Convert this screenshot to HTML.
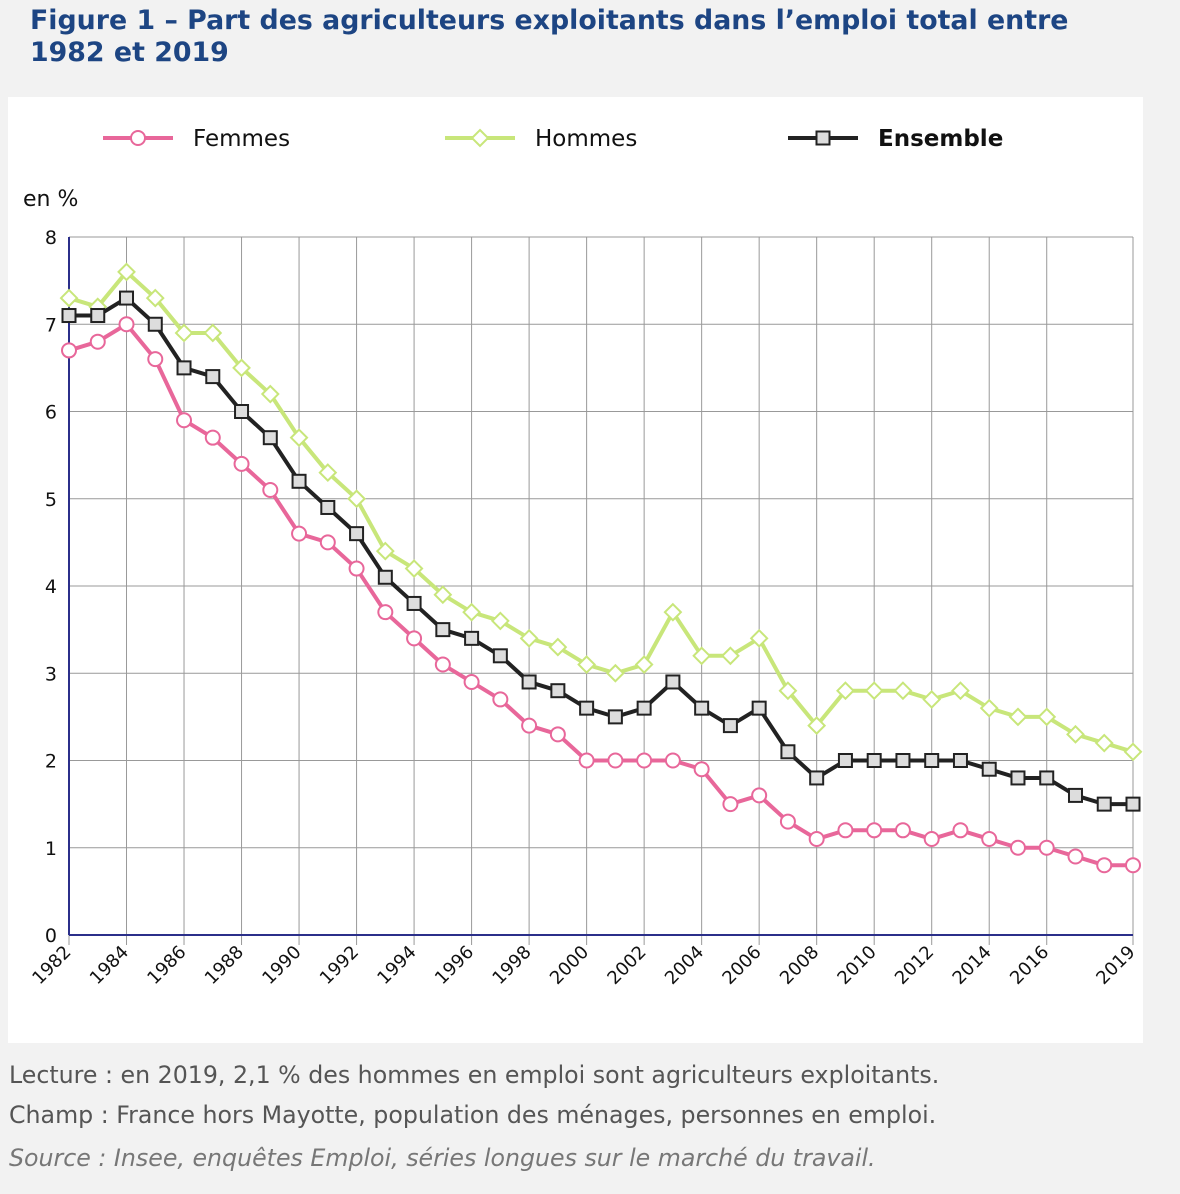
<!DOCTYPE html>
<html><head><meta charset="utf-8"><style>
body{margin:0;width:1180px;height:1194px;background:#f2f2f2;font-family:"DejaVu Sans","Liberation Sans",sans-serif;position:relative;overflow:hidden}
.t{position:absolute;left:30px;top:5px;font-size:26.8px;font-weight:bold;color:#1d4583;line-height:32px}
.panel{position:absolute;left:8px;top:97px;width:1135px;height:946px;background:#fff}
.f{position:absolute;left:9px;font-size:23.7px;color:#555}
</style></head><body>
<div class="t">Figure 1 – Part des agriculteurs exploitants dans l’emploi total entre<br>1982 et 2019</div>
<div class="panel"></div>
<svg id="c" width="1180" height="1194" style="position:absolute;left:0;top:0;font-family:'DejaVu Sans','Liberation Sans',sans-serif"></svg>
<div class="f" style="top:1061px">Lecture : en 2019, 2,1 % des hommes en emploi sont agriculteurs exploitants.</div>
<div class="f" style="top:1101px">Champ : France hors Mayotte, population des ménages, personnes en emploi.</div>
<div class="f" style="top:1144px;font-style:italic;color:#777">Source : Insee, enquêtes Emploi, séries longues sur le marché du travail.</div>
<script>
const years=[1982,1983,1984,1985,1986,1987,1988,1989,1990,1991,1992,1993,1994,1995,1996,1997,1998,1999,2000,2001,2002,2003,2004,2005,2006,2007,2008,2009,2010,2011,2012,2013,2014,2015,2016,2017,2018,2019];
const femmes=[6.7,6.8,7.0,6.6,5.9,5.7,5.4,5.1,4.6,4.5,4.2,3.7,3.4,3.1,2.9,2.7,2.4,2.3,2.0,2.0,2.0,2.0,1.9,1.5,1.6,1.3,1.1,1.2,1.2,1.2,1.1,1.2,1.1,1.0,1.0,0.9,0.8,0.8];
const hommes=[7.3,7.2,7.6,7.3,6.9,6.9,6.5,6.2,5.7,5.3,5.0,4.4,4.2,3.9,3.7,3.6,3.4,3.3,3.1,3.0,3.1,3.7,3.2,3.2,3.4,2.8,2.4,2.8,2.8,2.8,2.7,2.8,2.6,2.5,2.5,2.3,2.2,2.1];
const ensemble=[7.1,7.1,7.3,7.0,6.5,6.4,6.0,5.7,5.2,4.9,4.6,4.1,3.8,3.5,3.4,3.2,2.9,2.8,2.6,2.5,2.6,2.9,2.6,2.4,2.6,2.1,1.8,2.0,2.0,2.0,2.0,2.0,1.9,1.8,1.8,1.6,1.5,1.5];
const yTicks=[0,1,2,3,4,5,6,7,8];
const xTicks=[1982,1984,1986,1988,1990,1992,1994,1996,1998,2000,2002,2004,2006,2008,2010,2012,2014,2016,2019];
const NS="http://www.w3.org/2000/svg",svg=document.getElementById('c');
const X=y=>69+(y-1982)*(1133-69)/37, Y=v=>935-v*(935-237)/8;
function mk(t,a,p){const e=document.createElementNS(NS,t);for(const k in a)e.setAttribute(k,a[k]);(p||svg).appendChild(e);return e;}
yTicks.forEach(v=>{const l=mk('line',{x1:69,x2:1133,y1:Y(v),y2:Y(v),stroke:'#999','stroke-width':1});

const t=mk('text',{x:57,y:Y(v)+7,'text-anchor':'end','font-size':19,fill:'#111'});t.textContent=v;
});
xTicks.forEach(y=>{const x=X(y);const l=mk('line',{x1:x,x2:x,y1:237,y2:945,stroke:'#999','stroke-width':1});

const t=mk('text',{x:x+3,y:953,'text-anchor':'end','font-size':18,fill:'#111',transform:`rotate(-45 ${x+3} 953)`});t.textContent=y;
});
let a=mk('line',{x1:69,x2:1133,y1:935,y2:935,stroke:'#2b2f8a','stroke-width':2});

a=mk('line',{x1:69,x2:69,y1:237,y2:935,stroke:'#2b2f8a','stroke-width':2});

const yt=mk('text',{x:23,y:206,'font-size':22,fill:'#111'});yt.textContent='en %';

function marker(g,kind,x,y,col){
 if(kind==='c')return mk('circle',{cx:x,cy:y,r:7,fill:'#fff',stroke:col,'stroke-width':2},g);
 if(kind==='d')return mk('polygon',{points:`${x},${y-8} ${x+8},${y} ${x},${y+8} ${x-8},${y}`,fill:'#fff',stroke:col,'stroke-width':2},g);
 return mk('rect',{x:x-6.5,y:y-6.5,width:13,height:13,fill:'#ddd',stroke:col,'stroke-width':2},g);}
function series(vals,col,kind,name){const g=mk('g',{});
 
 const l=mk('polyline',{points:vals.map((v,i)=>X(years[i])+','+Y(v)).join(' '),fill:'none',stroke:col,'stroke-width':4,'stroke-linejoin':'round'},g);
 
 vals.forEach((v,i)=>{const m=marker(g,kind,X(years[i]),Y(v),col);
 });}
series(hommes,'#c8e67a','d','hommes');
series(femmes,'#e8679a','c','femmes');
series(ensemble,'#222','s','ensemble');
[[103,'#e8679a','c','Femmes','normal','femmes'],[445,'#c8e67a','d','Hommes','normal','hommes'],[788,'#222','s','Ensemble','bold','ensemble']].forEach(([x,c,k,lab,w,n])=>{
 const g=mk('g',{});
 mk('line',{x1:x,x2:x+70,y1:138,y2:138,stroke:c,'stroke-width':4},g);marker(g,k,x+35,138,c);
 const t=mk('text',{x:x+90,y:146,'font-size':23,'font-weight':w,fill:'#111'},g);t.textContent=lab;});
</script>
</body></html>
